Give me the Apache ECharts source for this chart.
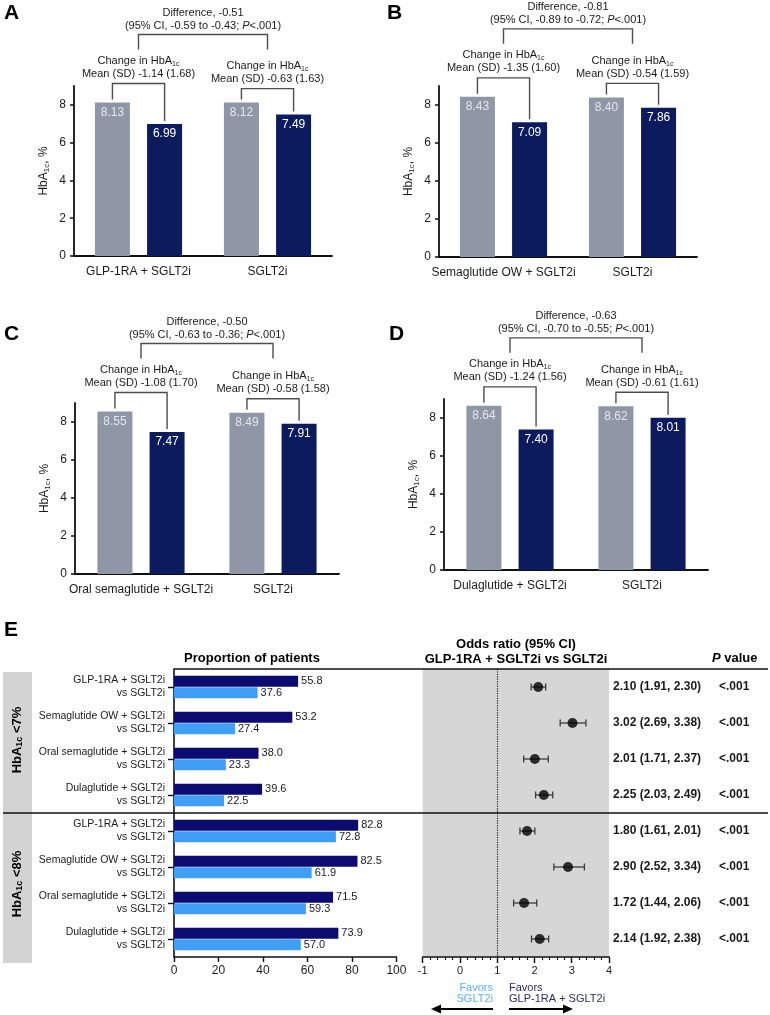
<!DOCTYPE html>
<html><head><meta charset="utf-8">
<script src="https://cdn.jsdelivr.net/npm/echarts@6/dist/echarts.min.js"></script>
<style>html,body{margin:0;padding:0;background:#fff}#c{width:770px;height:1015px}</style>
</head><body><div id="c"></div>
<script>
// ---------------- DATA ----------------
const panelLetters = ['A', 'B', 'C', 'D'];
const hbCategories = [
  ['GLP-1RA + SGLT2i', 'SGLT2i'],
  ['Semaglutide OW + SGLT2i', 'SGLT2i'],
  ['Oral semaglutide + SGLT2i', 'SGLT2i'],
  ['Dulaglutide + SGLT2i', 'SGLT2i']
];
const baselineA1c = [[8.13, 8.12], [8.43, 8.40], [8.55, 8.49], [8.64, 8.62]];
const followupA1c = [[6.99, 7.49], [7.09, 7.86], [7.47, 7.91], [7.40, 8.01]];
const changeMean = [[-1.14, -0.63], [-1.35, -0.54], [-1.08, -0.58], [-1.24, -0.61]];
const changeSD = [[1.68, 1.63], [1.60, 1.59], [1.70, 1.58], [1.56, 1.61]];
const diffEst = [-0.51, -0.81, -0.50, -0.63];
const diffLo = [-0.59, -0.89, -0.63, -0.70];
const diffHi = [-0.43, -0.72, -0.36, -0.55];
const diffP = ['<.001', '<.001', '<.001', '<.001'];
const yTickValues = [0, 2, 4, 6, 8];

const comboNames = ['GLP-1RA + SGLT2i', 'Semaglutide OW + SGLT2i', 'Oral semaglutide + SGLT2i', 'Dulaglutide + SGLT2i'];
const comparatorName = 'SGLT2i';
const thresholds = ['<7%', '<8%'];
const propCombo = [55.8, 53.2, 38.0, 39.6, 82.8, 82.5, 71.5, 73.9];
const propSglt = [37.6, 27.4, 23.3, 22.5, 72.8, 61.9, 59.3, 57.0];
const orEst = [2.10, 3.02, 2.01, 2.25, 1.80, 2.90, 1.72, 2.14];
const orLo = [1.91, 2.69, 1.71, 2.03, 1.61, 2.52, 1.44, 1.92];
const orHi = [2.30, 3.38, 2.37, 2.49, 2.01, 3.34, 2.06, 2.38];
const pValues = ['<.001', '<.001', '<.001', '<.001', '<.001', '<.001', '<.001', '<.001'];
const propTicks = [0, 20, 40, 60, 80, 100];
const orTicks = [-1, 0, 1, 2, 3, 4];

// ---------------- STYLE / LAYOUT ----------------
const FF = '"Liberation Sans", Arial, Helvetica, sans-serif';
const GRAY = '#8f97a6', NAVY = '#0c1b5e';
const E_NAVY = '#0b0b72', E_BLUE = '#3f9ff7';
const BRACKET = '#4d4d4d', TXT = '#1a1a1a';
const BAR_W = 35, BAR_GAP = 0.49;
const CHANGE_OFFSET = [19, 14];
const PANEL = [
  {left: 74, top: 86, width: 258, height: 170, lx: 4, ly: 13},
  {left: 439, top: 86, width: 258, height: 171, lx: 387, ly: 13},
  {left: 75, top: 403, width: 264, height: 171, lx: 4, ly: 334},
  {left: 444, top: 399, width: 264, height: 171, lx: 389, ly: 334}
];
const EBAR = {left: 174, top: 669, width: 222.4, height: 288};
const FOREST = {left: 422.7, top: 669, width: 186.3, height: 288};

function rich(size, color, weight) {
  const w = weight || 'normal';
  return {
    t: {fontSize: size, fontFamily: FF, color: color, fill: color, fontWeight: w, lineHeight: size + 2},
    s: {fontSize: Math.round(size * 0.68), fontFamily: FF, color: color, fill: color, fontWeight: w, lineHeight: Math.round(size * 0.6), verticalAlign: 'bottom'},
    i: {fontSize: size, fontFamily: FF, color: color, fill: color, fontWeight: w, fontStyle: 'italic', lineHeight: size + 2}
  };
}
const f2 = v => v.toFixed(2);

function makeAnno(p) {
  return function (params, api) {
    const half = BAR_W * (1 + BAR_GAP) / 2;
    const children = [];
    const bracketY = [];
    for (let g = 0; g < 2; g++) {
      const c = api.coord([g, 0])[0];
      const xa = c - half, xb = c + half;
      const ya = api.coord([g, baselineA1c[p][g]])[1];
      const yb = api.coord([g, followupA1c[p][g]])[1];
      const yTop = Math.min(ya, yb) - CHANGE_OFFSET[g];
      bracketY.push(yTop);
      children.push({type: 'polyline', shape: {points: [[xa, ya - 3], [xa, yTop], [xb, yTop], [xb, yb - 3]]},
        style: {stroke: BRACKET, lineWidth: 1.4, fill: null}});
      children.push({type: 'text', style: {
        text: '{t|Change in HbA}{s|1c}\n{t|Mean (SD) ' + f2(changeMean[p][g]) + ' (' + f2(changeSD[p][g]) + ')}',
        x: c, y: yTop - 3, align: 'center', verticalAlign: 'bottom', rich: rich(11, TXT)}});
    }
    const c0 = api.coord([0, 0])[0], c1 = api.coord([1, 0])[0];
    const yD = bracketY[0] - 49;
    children.push({type: 'polyline', shape: {points: [[c0, yD + 15], [c0, yD], [c1, yD], [c1, yD + 15]]},
      style: {stroke: BRACKET, lineWidth: 1.4, fill: null}});
    children.push({type: 'text', style: {
      text: '{t|Difference, ' + f2(diffEst[p]) + '}\n{t|(95% CI, ' + f2(diffLo[p]) + ' to ' + f2(diffHi[p]) + '; }{i|P}{t|' + diffP[p] + ')}',
      x: (c0 + c1) / 2, y: yD - 2, align: 'center', verticalAlign: 'bottom', rich: rich(11, TXT)}});
    return {type: 'group', children: children};
  };
}

const option = {animation: false, backgroundColor: '#fff', grid: [], xAxis: [], yAxis: [], series: [], graphic: []};

for (let p = 0; p < 4; p++) {
  const L = PANEL[p];
  option.grid.push({left: L.left, top: L.top, width: L.width, height: L.height, outerBoundsMode: 'none', containLabel: false});
  option.xAxis.push({type: 'category', gridIndex: p, data: hbCategories[p],
    axisLine: {lineStyle: {color: '#111', width: 1.8}}, axisTick: {show: false},
    axisLabel: {fontSize: 12, color: TXT, fontFamily: FF, margin: 10, interval: 0}});
  option.yAxis.push({type: 'value', gridIndex: p, min: 0, max: 9,
    name: '{t|HbA}{s|1c}{t|, %}', nameLocation: 'middle', nameGap: 23, nameRotate: 90,
    nameTextStyle: {rich: rich(12, TXT)},
    axisLine: {show: true, lineStyle: {color: '#111', width: 1.8}},
    axisTick: {show: true, length: 4, customValues: yTickValues, lineStyle: {color: '#111', width: 1.5}},
    axisLabel: {customValues: yTickValues, fontSize: 12, color: TXT, margin: 8, fontFamily: FF},
    splitLine: {show: false}});
  option.series.push({type: 'bar', xAxisIndex: p, yAxisIndex: p, data: baselineA1c[p], barWidth: BAR_W,
    barGap: (BAR_GAP * 100) + '%', itemStyle: {color: GRAY},
    label: {show: true, position: 'insideTop', distance: 4, color: '#e4e7ec', fontSize: 12, fontFamily: FF,
      formatter: d => d.value.toFixed(2)}});
  option.series.push({type: 'bar', xAxisIndex: p, yAxisIndex: p, data: followupA1c[p], barWidth: BAR_W,
    barGap: (BAR_GAP * 100) + '%', itemStyle: {color: NAVY},
    label: {show: true, position: 'insideTop', distance: 4, color: '#ffffff', fontSize: 12, fontFamily: FF,
      formatter: d => d.value.toFixed(2)}});
  option.series.push({type: 'custom', xAxisIndex: p, yAxisIndex: p, data: [[0, 0]], clip: false, silent: true,
    encode: {x: 0, y: 1}, renderItem: makeAnno(p), z: 5});
  option.graphic.push({type: 'text', x: L.lx, y: L.ly, style: {text: panelLetters[p], font: 'bold 21px ' + FF, fill: '#000', verticalAlign: 'middle'}});
}

// ---------- Panel E ----------
const eLabels = [];
for (let k = 0; k < thresholds.length; k++) {
  comboNames.forEach(n => eLabels.push(n + '\nvs ' + comparatorName));
}
// grid 4: proportions
option.grid.push({left: EBAR.left, top: EBAR.top, width: EBAR.width, height: EBAR.height, outerBoundsMode: 'none', containLabel: false});
option.xAxis.push({type: 'value', gridIndex: 4, min: propTicks[0], max: propTicks[propTicks.length - 1], interval: 20,
  axisLine: {show: true, lineStyle: {color: '#111', width: 1.6}},
  axisTick: {show: true, length: 5, lineStyle: {color: '#111', width: 1.4}},
  axisLabel: {fontSize: 12, color: TXT, fontFamily: FF, margin: 8}, splitLine: {show: false}});
option.yAxis.push({type: 'category', gridIndex: 4, inverse: true, data: eLabels,
  axisLine: {show: true, lineStyle: {color: '#111', width: 1.6}},
  axisTick: {show: true, alignWithLabel: true, length: 6, lineStyle: {color: '#111', width: 1.4}},
  axisLabel: {fontSize: 10.5, color: TXT, fontFamily: FF, margin: 9, lineHeight: 13, align: 'right', interval: 0}});
option.series.push({type: 'bar', xAxisIndex: 4, yAxisIndex: 4, data: propCombo, barWidth: 11, barGap: '4%',
  itemStyle: {color: E_NAVY}, label: {show: true, position: 'right', distance: 3, fontSize: 11, color: TXT, fontFamily: FF, formatter: d => d.value.toFixed(1)}});
option.series.push({type: 'bar', xAxisIndex: 4, yAxisIndex: 4, data: propSglt, barWidth: 11, barGap: '4%',
  itemStyle: {color: E_BLUE}, label: {show: true, position: 'right', distance: 3, fontSize: 11, color: TXT, fontFamily: FF, formatter: d => d.value.toFixed(1)}});

// grid 5: forest
option.grid.push({left: FOREST.left, top: FOREST.top, width: FOREST.width, height: FOREST.height, show: true,
  backgroundColor: '#d6d6d6', borderWidth: 0, outerBoundsMode: 'none', containLabel: false});
option.xAxis.push({type: 'value', gridIndex: 5, min: orTicks[0], max: orTicks[orTicks.length - 1], interval: 1,
  axisLine: {show: true, onZero: false, lineStyle: {color: '#111', width: 1.6}},
  axisTick: {show: true, length: 6, lineStyle: {color: '#111', width: 1.4}},
  minorTick: {show: true, splitNumber: 5, length: 3, lineStyle: {color: '#111', width: 1.2}},
  axisLabel: {fontSize: 11, color: TXT, fontFamily: FF, margin: 8}, splitLine: {show: false}, minorSplitLine: {show: false}});
const catIdx = orEst.map((v, i) => i);
option.yAxis.push({type: 'category', gridIndex: 5, inverse: true, data: catIdx, show: false});
option.yAxis.push({type: 'category', gridIndex: 5, inverse: true, position: 'right', offset: 0,
  data: orEst.map((v, i) => f2(v) + ' (' + f2(orLo[i]) + ', ' + f2(orHi[i]) + ')'),
  axisLine: {show: false}, axisTick: {show: false},
  axisLabel: {fontSize: 12, fontWeight: 'bold', color: TXT, fontFamily: FF, margin: 4, interval: 0}});
option.yAxis.push({type: 'category', gridIndex: 5, inverse: true, position: 'right', offset: 106,
  data: pValues, axisLine: {show: false}, axisTick: {show: false},
  axisLabel: {fontSize: 12, fontWeight: 'bold', color: TXT, fontFamily: FF, margin: 4, interval: 0}});
option.series.push({type: 'custom', xAxisIndex: 5, yAxisIndex: 5, data: orLo.map((lo, i) => [lo, orHi[i], i]),
  encode: {x: [0, 1], y: 2}, z: 3, silent: true,
  renderItem: function (params, api) {
    const a = api.coord([api.value(0), api.value(2)]);
    const b = api.coord([api.value(1), api.value(2)]);
    const h = 3.5, st = {stroke: '#3a3a3a', lineWidth: 1.3};
    return {type: 'group', children: [
      {type: 'line', shape: {x1: a[0], y1: a[1], x2: b[0], y2: b[1]}, style: st},
      {type: 'line', shape: {x1: a[0], y1: a[1] - h, x2: a[0], y2: a[1] + h}, style: st},
      {type: 'line', shape: {x1: b[0], y1: b[1] - h, x2: b[0], y2: b[1] + h}, style: st}
    ]};
  }});
option.series.push({type: 'scatter', xAxisIndex: 5, yAxisIndex: 5, data: orEst.map((v, i) => [v, i]),
  symbolSize: 10, itemStyle: {color: '#000'}, z: 4,
  markLine: {silent: true, symbol: 'none', label: {show: false},
    lineStyle: {type: 'dotted', color: '#222', width: 1.2}, data: [{xAxis: 1}]}});

// ---------- decorations / headers ----------
const G = option.graphic;
G.push({type: 'text', x: 4, y: 630, style: {text: 'E', font: 'bold 21px ' + FF, fill: '#000', verticalAlign: 'middle'}});
G.push({type: 'text', x: 252, y: 658, style: {text: 'Proportion of patients', font: 'bold 13px ' + FF, fill: '#000', align: 'center', verticalAlign: 'middle'}});
G.push({type: 'text', x: 516, y: 644, style: {text: 'Odds ratio (95% CI)', font: 'bold 13px ' + FF, fill: '#000', align: 'center', verticalAlign: 'middle'}});
G.push({type: 'text', x: 516, y: 659, style: {text: comboNames[0] + ' vs ' + comparatorName, font: 'bold 13px ' + FF, fill: '#000', align: 'center', verticalAlign: 'middle'}});
G.push({type: 'text', x: 712, y: 658, style: {text: '{i|P}{t| value}', rich: rich(13, '#000', 'bold'), verticalAlign: 'middle'}});
// left bands
const bandTop = 672, bandBot = 963;
G.push({type: 'rect', shape: {x: 3, y: bandTop, width: 29, height: bandBot - bandTop}, style: {fill: '#d3d3d3'}, z: 0});
const half = EBAR.height / thresholds.length;
thresholds.forEach((t, k) => {
  G.push({type: 'text', x: 17, y: EBAR.top + half * k + half / 2 - 1, rotation: Math.PI / 2,
    style: {text: '{t|HbA}{s|1c}{t| ' + t + '}', rich: rich(13, '#000', 'bold'), align: 'center', verticalAlign: 'middle'}, z: 2});
});
// lines
G.push({type: 'line', shape: {x1: EBAR.left, y1: EBAR.top, x2: 768, y2: EBAR.top}, style: {stroke: '#111', lineWidth: 1.5}, z: 10});
G.push({type: 'line', shape: {x1: 3, y1: EBAR.top + half, x2: 768, y2: EBAR.top + half}, style: {stroke: '#111', lineWidth: 1.3}, z: 10});
// favors
G.push({type: 'text', x: 493, y: 982, style: {text: 'Favors\n' + comparatorName, font: '11px ' + FF, fill: '#5aaeff', align: 'right', verticalAlign: 'top', lineHeight: 11}});
G.push({type: 'text', x: 509, y: 982, style: {text: 'Favors\n' + comboNames[0], font: '11px ' + FF, fill: '#2a2a72', align: 'left', verticalAlign: 'top', lineHeight: 11}});
G.push({type: 'line', shape: {x1: 493, y1: 1009, x2: 438, y2: 1009}, style: {stroke: '#000', lineWidth: 2}});
G.push({type: 'polygon', shape: {points: [[431, 1009], [441, 1004.5], [441, 1013.5]]}, style: {fill: '#000'}});
G.push({type: 'line', shape: {x1: 509, y1: 1009, x2: 565, y2: 1009}, style: {stroke: '#000', lineWidth: 2}});
G.push({type: 'polygon', shape: {points: [[573, 1009], [563, 1004.5], [563, 1013.5]]}, style: {fill: '#000'}});

const chart = echarts.init(document.getElementById('c'), null, {renderer: 'canvas'});
chart.setOption(option);
</script>
</body></html>
